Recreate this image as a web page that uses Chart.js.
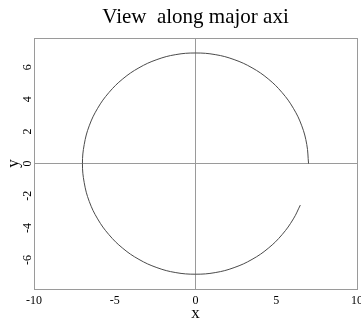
<!DOCTYPE html>
<html>
<head>
<meta charset="utf-8">
<script src="https://cdn.jsdelivr.net/npm/chart.js@4/dist/chart.umd.min.js"></script>
<style>
  html, body { margin: 0; padding: 0; background: #fff; }
  #wrap { width: 361px; height: 322px; }
</style>
</head>
<body>
<div id="wrap"><canvas id="chartView"></canvas></div>
<script>
// curve (x, y pairs, going counter-clockwise from the right)
const curveX = [7.00, 6.89, 6.58, 6.06, 5.36, 4.50, 3.50, 2.39, 1.22, 0.00,
  -1.22, -2.39, -3.50, -4.50, -5.36, -6.06, -6.58, -6.89, -7.00,
  -6.89, -6.58, -6.06, -5.36, -4.50, -3.50, -2.39, -1.22, 0.00,
  1.22, 2.39, 3.50, 4.50, 5.36, 6.06, 6.49];
const curveY = [0.00, 1.19, 2.35, 3.44, 4.42, 5.27, 5.96, 6.47, 6.78, 6.88,
  6.78, 6.47, 5.96, 5.27, 4.42, 3.44, 2.35, 1.19, 0.00,
  -1.19, -2.35, -3.44, -4.42, -5.27, -5.96, -6.47, -6.78, -6.88,
  -6.78, -6.47, -5.96, -5.27, -4.42, -3.44, -2.58];

const xTicks = [-10, -5, 0, 5, 10];
const yTicks = [-6, -4, -2, 0, 2, 4, 6];

const SERIF = "'Liberation Serif', 'DejaVu Serif', serif";
const FRAME = '#9a9a9a';

const points = curveX.map((x, i) => ({ x, y: curveY[i] }));

// box round the plot area
const frameBox = {
  id: 'frameBox',
  afterDatasetsDraw(chart){
    const a = chart.chartArea;
    const c = chart.ctx;
    c.save();
    c.strokeStyle = FRAME;
    c.lineWidth = 1;
    c.strokeRect(Math.round(a.left) + 0.5, Math.round(a.top) + 0.5,
      Math.round(a.right - a.left), Math.round(a.bottom - a.top));
    c.restore();
  }
};

const zeroLine = ctx => (ctx.tick && ctx.tick.value === 0) ? FRAME : 'rgba(0,0,0,0)';

new Chart(document.getElementById('chartView').getContext('2d'), {
  type: 'scatter',
  data: {
    datasets: [{
      data: points,
      showLine: true,
      borderColor: '#4a4a4a',
      borderWidth: 1,
      pointRadius: 0,
      tension: 0.4,
      fill: false
    }]
  },
  options: {
    responsive: true,
    maintainAspectRatio: false,
    animation: false,
    layout: { padding: { left: 0, right: 4, top: 0, bottom: 0 } },
    plugins: {
      legend: { display: false },
      tooltip: { enabled: false },
      title: {
        display: true,
        text: 'View  along major axi',
        fullSize: false,
        color: '#000',
        font: { family: SERIF, size: 21, weight: 'normal' },
        padding: { top: 5, bottom: 8 }
      }
    },
    scales: {
      x: {
        type: 'linear',
        min: -10, max: 10,
        afterBuildTicks: s => { s.ticks = xTicks.map(v => ({ value: v })); },
        afterFit: s => { s.height = 33; s.paddingLeft = 0; s.paddingRight = 0; },
        border: { display: false },
        grid: { color: zeroLine, drawTicks: false, lineWidth: 1 },
        ticks: {
          color: '#000', padding: 5, maxRotation: 0, autoSkip: false,
          font: { family: SERIF, size: 12 }
        },
        title: {
          display: true, text: 'x', color: '#000',
          font: { family: SERIF, size: 17 },
          padding: { top: 0, bottom: -2 }
        }
      },
      y: {
        type: 'linear',
        min: -7.8, max: 7.8,
        afterBuildTicks: s => { s.ticks = yTicks.map(v => ({ value: v })); },
        afterFit: s => { s.width = 34; s.paddingTop = 0; s.paddingBottom = 0; },
        border: { display: false },
        grid: { color: zeroLine, drawTicks: false, lineWidth: 1 },
        ticks: {
          color: '#000', padding: 1, minRotation: 90, maxRotation: 90,
          crossAlign: 'center', autoSkip: false,
          font: { family: SERIF, size: 12 }
        },
        title: {
          display: true, text: 'y', color: '#000',
          font: { family: SERIF, size: 17 },
          padding: { top: 3, bottom: 0 }
        }
      }
    }
  },
  plugins: [frameBox]
});
</script>
</body>
</html>
